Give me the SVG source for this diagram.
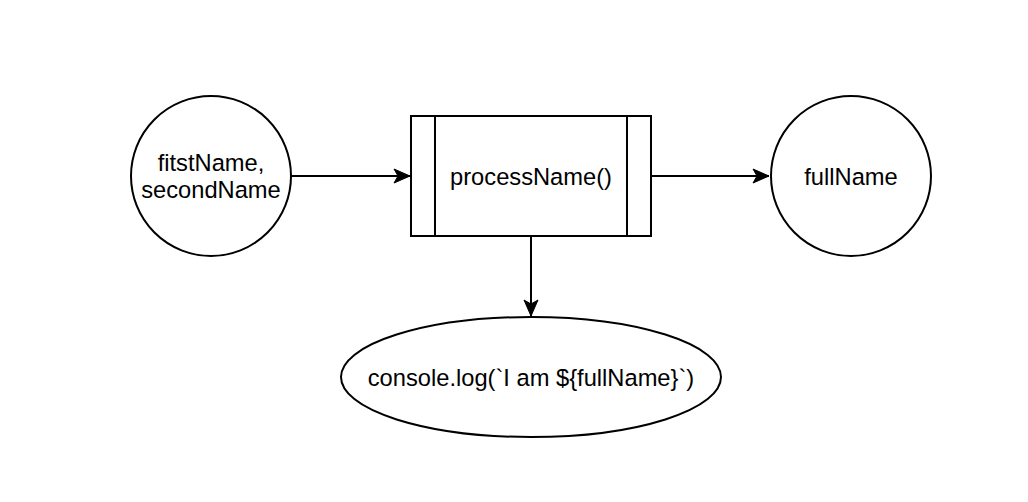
<svg xmlns="http://www.w3.org/2000/svg" width="1028" height="502" viewBox="0 0 1028 502">
<style>
.shape{fill:#fff;stroke:#000;stroke-width:2}
.edge{fill:none;stroke:#000;stroke-width:2}
.lbl{font-family:"Liberation Sans",Arial,sans-serif;font-size:23.7px;fill:#000;text-anchor:middle}
</style>
<defs>
<marker id="arr" markerUnits="userSpaceOnUse" markerWidth="20" markerHeight="20" viewBox="0 0 20 20" refX="18" refY="10" orient="auto">
<path d="M2,3 L18,10 L2,17 L6,10 Z" fill="#000" stroke="#000" stroke-width="1"/>
</marker>
</defs>
<rect width="1028" height="502" fill="#fff"/>
<g id="connectors">
<path class="edge" d="M291,176 L410,176" marker-end="url(#arr)"/>
<path class="edge" d="M651,176 L769,176" marker-end="url(#arr)"/>
<path class="edge" d="M531,236 L531,316" marker-end="url(#arr)"/>
</g>
<g id="node-input">
<circle class="shape" cx="211" cy="176" r="80"/>
<text class="lbl" x="211" y="171">fitstName,</text>
<text class="lbl" x="211" y="198">secondName</text>
</g>
<g id="node-process">
<rect class="shape" x="411" y="116" width="240" height="120"/>
<line class="edge" x1="435" y1="116" x2="435" y2="236"/>
<line class="edge" x1="627" y1="116" x2="627" y2="236"/>
<text class="lbl" x="531" y="185">processName()</text>
</g>
<g id="node-output">
<circle class="shape" cx="851" cy="176" r="80"/>
<text class="lbl" x="851" y="185">fullName</text>
</g>
<g id="node-log">
<ellipse class="shape" cx="531" cy="377" rx="190" ry="60"/>
<text class="lbl" x="531" y="386">console.log(`I am ${fullName}`)</text>
</g>
</svg>
